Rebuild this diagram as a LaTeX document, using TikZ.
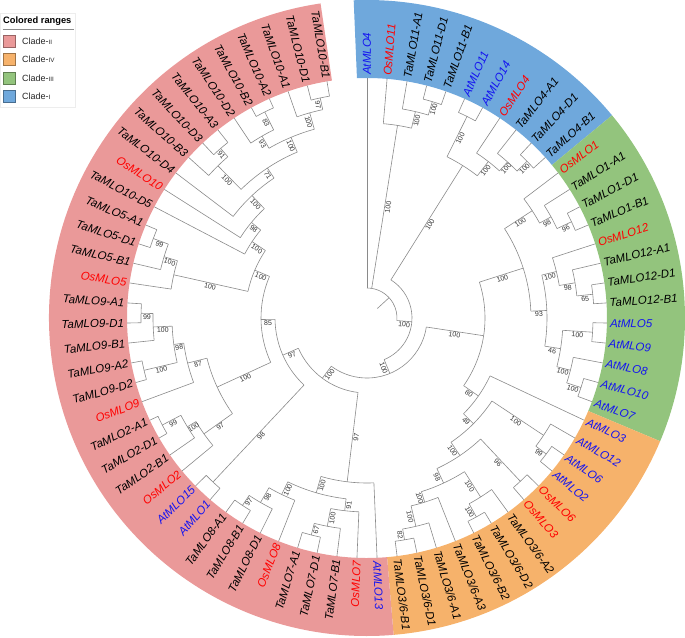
\documentclass[tikz,border=0pt]{standalone}
\usepackage{fontspec}
\setmainfont{Liberation Sans}
\definecolor{cpink}{HTML}{EA9999}
\definecolor{corange}{HTML}{F6B26B}
\definecolor{cgreen}{HTML}{93C47D}
\definecolor{cblue}{HTML}{6FA8DC}
\definecolor{osred}{HTML}{FF0000}
\definecolor{atblue}{HTML}{1414F0}
\definecolor{brgray}{HTML}{8A8A8A}
\tikzset{
  br/.style={draw=brgray, line width=0.6pt},
  boot/.style={sloped, below, inner sep=0.8pt, font=\fontsize{7}{7}\selectfont, text=black!80},
  leaf/.style={inner sep=0pt, font=\itshape\fontsize{11.5}{12}\selectfont},
  swatch/.style={minimum width=12pt, minimum height=12pt, inner sep=0pt, line width=0.5pt},
  lgtext/.style={anchor=west, inner sep=0pt, font=\fontsize{9}{10}\selectfont, text=black!85}
}
\newcommand\rn[1]{{\fontsize{6.3}{7}\selectfont #1}}
% internal node: angle, parent radius, radius, max child angle, min child angle, bootstrap
\newcommand\nd[6]{%
  \draw[br] (#1:#2pt) -- node[boot]{#6} (#1:#3pt);
  \draw[br] (#4:#3pt) arc[start angle=#4, end angle=#5, radius=#3pt];}
% leaf: index, parent radius, text, colour
\newcommand\lf[4]{%
  \pgfmathsetmacro\la{90-4.8*#1}%
  \coordinate (t#1) at (\la:240pt);
  \draw[br] (\la:#2pt) -- (t#1);
  \ifdim\la pt<-90pt
    \node[leaf, text=#4, anchor=east, rotate=\la+180] (n#1) at (\la:243pt) {#3};
  \else
    \node[leaf, text=#4, anchor=west, rotate=\la] (n#1) at (\la:243pt) {#3};
  \fi}
\newcommand\rng[3]{\fill[#3] (#1:240pt) arc[start angle=#1, end angle=#2, radius=240pt] -- (#2:318pt) arc[start angle=#2, end angle=#1, radius=318pt] -- cycle;}
\begin{document}
\begin{tikzpicture}
\useasboundingbox (-367pt,-319pt) rectangle (318pt,318pt);
% coloured ranges
\rng{92.4}{39.6}{cblue}
\rng{39.6}{-22.8}{cgreen}
\rng{-22.8}{-85.2}{corange}
\rng{-85.2}{-261.6}{cpink}
% root
\coordinate (root) at (42.575:14pt);
\draw[br] (root) -- (42.575:30pt);
\draw[br] (90:30pt) arc[start angle=90, end angle=-4.85, radius=30pt];
\lf{0}{30}{AtMLO4}{atblue}
% clade I, first part
\nd{81}{30}{195}{85.2}{76.8}{100}
\lf{1}{195}{OsMLO11}{osred}
\nd{76.8}{195}{212}{80.4}{73.2}{100}
\lf{2}{212}{TaMLO11-A1}{black}
\nd{73.2}{212}{226}{75.6}{70.8}{100}
\lf{3}{226}{TaMLO11-D1}{black}
\lf{4}{226}{TaMLO11-B1}{black}
\nd{-4.85}{30}{45}{57.9}{-67.59}{100}
\nd{57.9}{45}{180}{63.6}{52.2}{100}
\nd{63.6}{180}{225}{66}{61.2}{100}
\lf{5}{225}{AtMLO11}{atblue}
\lf{6}{225}{AtMLO14}{atblue}
\nd{52.2}{180}{198}{56.4}{48}{100}
\lf{7}{198}{OsMLO4}{osred}
\nd{48}{198}{210}{51.6}{44.4}{100}
\lf{8}{210}{TaMLO4-A1}{black}
\nd{44.4}{210}{224}{46.8}{42}{100}
\lf{9}{224}{TaMLO4-D1}{black}
\lf{10}{224}{TaMLO4-B1}{black}
\nd{-67.59}{45}{60}{-8.64}{-126.54}{100}
% clades III and IV
\nd{-8.64}{60}{118}{17.7}{-34.99}{100}
\nd{17.7}{118}{164}{33}{2.4}{100}
\nd{33}{164}{197}{37.2}{28.8}{100}
\lf{11}{197}{OsMLO1}{osred}
\nd{28.8}{197}{210}{32.4}{25.2}{98}
\lf{12}{210}{TaMLO1-A1}{black}
\nd{25.2}{210}{226}{27.6}{22.8}{96}
\lf{13}{226}{TaMLO1-D1}{black}
\lf{14}{226}{TaMLO1-B1}{black}
\nd{2.4}{164}{180}{13.8}{-9}{93}
\nd{13.8}{180}{195}{18}{9.6}{100}
\lf{15}{195}{OsMLO12}{osred}
\nd{9.6}{195}{211}{13.2}{6}{98}
\lf{16}{211}{TaMLO12-A1}{black}
\nd{6}{211}{227}{8.4}{3.6}{65}
\lf{17}{227}{TaMLO12-D1}{black}
\lf{18}{227}{TaMLO12-B1}{black}
\nd{-9}{180}{196}{-3.6}{-14.4}{46}
\nd{-3.6}{196}{226}{-1.2}{-6}{100}
\lf{19}{226}{AtMLO5}{atblue}
\lf{20}{226}{AtMLO9}{atblue}
\nd{-14.4}{196}{210}{-10.8}{-18}{100}
\lf{21}{210}{AtMLO8}{atblue}
\nd{-18}{210}{225}{-15.6}{-20.4}{100}
\lf{22}{225}{AtMLO10}{atblue}
\lf{23}{225}{AtMLO7}{atblue}
\nd{-34.99}{118}{136}{-25.2}{-44.78}{80}
\lf{24}{136}{AtMLO3}{atblue}
\nd{-44.78}{136}{150}{-33.6}{-55.95}{49}
\nd{-33.6}{150}{212}{-30}{-37.2}{100}
\lf{25}{212}{AtMLO12}{atblue}
\nd{-37.2}{212}{225}{-34.8}{-39.6}{99}
\lf{26}{225}{AtMLO6}{atblue}
\lf{27}{225}{AtMLO2}{atblue}
\nd{-55.95}{150}{166}{-46.8}{-65.1}{100}
\nd{-46.8}{166}{224}{-44.4}{-49.2}{96}
\lf{28}{224}{OsMLO6}{osred}
\lf{29}{224}{OsMLO3}{osred}
\nd{-65.1}{166}{182}{-57.6}{-72.6}{98}
\nd{-57.6}{182}{212}{-54}{-61.2}{100}
\lf{30}{212}{TaMLO3/6-A2}{black}
\nd{-61.2}{212}{227}{-58.8}{-63.6}{100}
\lf{31}{227}{TaMLO3/6-D2}{black}
\lf{32}{227}{TaMLO3/6-B2}{black}
\nd{-72.6}{182}{193}{-68.4}{-76.8}{100}
\lf{33}{193}{TaMLO3/6-A3}{black}
\nd{-76.8}{193}{214}{-73.2}{-80.4}{100}
\lf{34}{214}{TaMLO3/6-A1}{black}
\nd{-80.4}{214}{225}{-78}{-82.8}{82}
\lf{35}{225}{TaMLO3/6-D1}{black}
\lf{36}{225}{TaMLO3/6-B1}{black}
% clade II
\nd{-126.54}{60}{75}{-96.9}{-156.19}{100}
\nd{-96.9}{75}{165}{-87.6}{-106.2}{97}
\lf{37}{165}{AtMLO13}{atblue}
\nd{-106.2}{165}{182}{-96.6}{-115.8}{100}
\nd{-96.6}{182}{194}{-92.4}{-100.8}{91}
\lf{38}{194}{OsMLO7}{osred}
\nd{-100.8}{194}{212}{-97.2}{-104.4}{100}
\lf{39}{212}{TaMLO7-B1}{black}
\nd{-104.4}{212}{224}{-102}{-106.8}{67}
\lf{40}{224}{TaMLO7-D1}{black}
\lf{41}{224}{TaMLO7-A1}{black}
\nd{-115.8}{182}{196}{-111.6}{-120}{100}
\lf{42}{196}{OsMLO8}{osred}
\nd{-120}{196}{213}{-116.4}{-123.6}{98}
\lf{43}{213}{TaMLO8-D1}{black}
\nd{-123.6}{213}{225}{-121.2}{-126}{97}
\lf{44}{225}{TaMLO8-B1}{black}
\lf{45}{225}{TaMLO8-A1}{black}
\nd{-156.19}{75}{92}{-133.2}{-179.18}{97}
\nd{-133.2}{92}{225}{-130.8}{-135.6}{98}
\lf{46}{225}{AtMLO1}{atblue}
\lf{47}{225}{AtMLO15}{atblue}
\nd{-179.18}{92}{106}{-155.25}{-203.1}{85}
\nd{-155.25}{106}{165}{-144.6}{-165.9}{100}
\nd{-144.6}{165}{200}{-140.4}{-148.8}{97}
\lf{48}{200}{OsMLO2}{osred}
\nd{-148.8}{200}{210}{-145.2}{-152.4}{100}
\lf{49}{210}{TaMLO2-B1}{black}
\nd{-152.4}{210}{231}{-150}{-154.8}{99}
\lf{50}{231}{TaMLO2-D1}{black}
\lf{51}{231}{TaMLO2-A1}{black}
\nd{-165.9}{165}{185}{-159.6}{-172.2}{87}
\lf{52}{185}{OsMLO9}{osred}
\nd{-172.2}{185}{195}{-166.8}{-177.6}{98}
\nd{-166.8}{195}{229}{-164.4}{-169.2}{100}
\lf{53}{229}{TaMLO9-D2}{black}
\lf{54}{229}{TaMLO9-A2}{black}
\nd{-177.6}{195}{214}{-174}{-181.2}{100}
\lf{55}{214}{TaMLO9-B1}{black}
\nd{-181.2}{214}{226}{-178.8}{-183.6}{99}
\lf{56}{226}{TaMLO9-D1}{black}
\lf{57}{226}{TaMLO9-A1}{black}
\nd{-203.1}{106}{122}{-192.6}{-213.6}{100}
\nd{-192.6}{122}{198}{-188.4}{-196.8}{100}
\lf{58}{198}{OsMLO5}{osred}
\nd{-196.8}{198}{212}{-193.2}{-200.4}{100}
\lf{59}{212}{TaMLO5-B1}{black}
\nd{-200.4}{212}{228}{-198}{-202.8}{99}
\lf{60}{228}{TaMLO5-D1}{black}
\lf{61}{228}{TaMLO5-A1}{black}
\nd{-213.6}{122}{138}{-207.6}{-219.6}{100}
\lf{62}{138}{TaMLO10-D5}{black}
\nd{-219.6}{138}{150}{-212.4}{-226.8}{98}
\lf{63}{150}{OsMLO10}{osred}
\nd{-226.8}{150}{168}{-217.2}{-236.4}{100}
\lf{64}{168}{TaMLO10-D4}{black}
\nd{-236.4}{168}{180}{-225.6}{-247.2}{71}
\nd{-225.6}{180}{213}{-222}{-229.2}{100}
\lf{65}{213}{TaMLO10-B3}{black}
\nd{-229.2}{213}{224}{-226.8}{-231.6}{91}
\lf{66}{224}{TaMLO10-D3}{black}
\lf{67}{224}{TaMLO10-A3}{black}
\nd{-247.2}{180}{196}{-240}{-254.4}{100}
\nd{-240}{196}{210}{-236.4}{-243.6}{93}
\lf{68}{210}{TaMLO10-D2}{black}
\nd{-243.6}{210}{230}{-241.2}{-246}{83}
\lf{69}{230}{TaMLO10-B2}{black}
\lf{70}{230}{TaMLO10-A2}{black}
\nd{-254.4}{196}{213}{-250.8}{-258}{100}
\lf{71}{213}{TaMLO10-A1}{black}
\nd{-258}{213}{225}{-255.6}{-260.4}{97}
\lf{72}{225}{TaMLO10-D1}{black}
\lf{73}{225}{TaMLO10-B1}{black}
% legend
\node[draw=black!7, fill=white, minimum width=75pt, minimum height=94pt, anchor=north west, inner sep=0pt] (lg) at (-367pt,305pt) {};
\node[anchor=west, inner sep=0pt, font=\bfseries\fontsize{9.3}{10}\selectfont] (lgt) at (-364pt,297pt) {Colored ranges};
\draw[black!45, line width=0.7pt] (-364pt,289pt) -- (-293pt,289pt);
\node[swatch, fill=cpink, draw=cpink!65!black] (s1) at (-358pt,277pt) {};
\node[lgtext] (t1) at (-345pt,277pt) {Clade-\rn{II}};
\node[swatch, fill=corange, draw=corange!65!black] (s2) at (-358pt,258.5pt) {};
\node[lgtext] (t2) at (-345pt,258.5pt) {Clade-\rn{IV}};
\node[swatch, fill=cgreen, draw=cgreen!65!black] (s3) at (-358pt,240pt) {};
\node[lgtext] (t3) at (-345pt,240pt) {Clade-\rn{III}};
\node[swatch, fill=cblue, draw=cblue!65!black] (s4) at (-358pt,221.3pt) {};
\node[lgtext] (t4) at (-345pt,221.3pt) {Clade-\rn{I}};
\end{tikzpicture}
\end{document}
